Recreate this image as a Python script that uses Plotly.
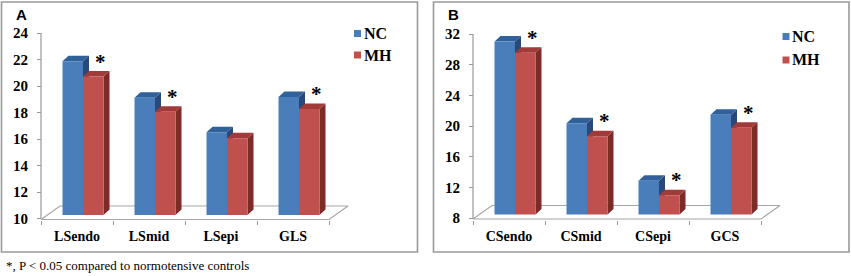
import plotly.graph_objects as go

# ---------------- data ----------------
series_names = ["NC", "MH"]
categories_A = ["LSendo", "LSmid", "LSepi", "GLS"]
nc_A = [21.6, 18.85, 16.25, 18.9]
mh_A = [20.45, 17.8, 15.8, 18.0]
sig_A = [True, True, False, True]
ticks_A = [10, 12, 14, 16, 18, 20, 22, 24]

categories_B = ["CSendo", "CSmid", "CSepi", "GCS"]
nc_B = [30.55, 19.9, 12.4, 21.0]
mh_B = [29.1, 18.2, 10.5, 19.3]
sig_B = [True, True, True, True]
ticks_B = [8, 12, 16, 20, 24, 28, 32]

panel_letters = ["A", "B"]
footnote = "*, P < 0.05 compared to normotensive controls"

# ---------------- styling / layout constants ----------------
W, H = 851, 276
SERIF = "Liberation Serif, Times New Roman, serif"
SANS = "Liberation Sans, Arial, sans-serif"
GRAY = "#999999"
FRONT = ["#4A7EBB", "#C0504D"]
TOP = ["#31619A", "#A03B39"]
SIDE = ["#28497A", "#7C2B29"]

CAT_PX = 72.0          # pixels per category
FLOOR_DX, FLOOR_DY = 19.0, 13.5
BAR_SX, BAR_SY = 6.0, 3.5   # bar plane shift from front
BAR_DX, BAR_DY = 6.0, 5.5   # bar depth
BAR_W = 20.5

panels = [
    dict(cats=categories_A, nc=nc_A, mh=mh_A, sig=sig_A, ticks=ticks_A,
         axis_px=41.0, ybot_px=218.5, ytop_px=33.0, xa="x", ya="y",
         frame=(1.5, 2.0, 417.5, 252.0), letter=(21, 14),
         leg=(357.5, 33.5, 55.0)),
    dict(cats=categories_B, nc=nc_B, mh=mh_B, sig=sig_B, ticks=ticks_B,
         axis_px=473.0, ybot_px=218.0, ytop_px=34.0, xa="x2", ya="y2",
         frame=(433.5, 2.0, 849.0, 252.0), letter=(453, 14),
         leg=(786.0, 36.5, 60.0)),
]

fig = go.Figure()
shapes = []
annotations = []

def px2x(p):
    return p / W

def py2y(p):
    return 1 - p / H

for pi, P in enumerate(panels):
    ymin, ymax = P["ticks"][0], P["ticks"][-1]
    ky = (P["ybot_px"] - P["ytop_px"]) / (ymax - ymin)   # px per unit
    pad_lo, pad_hi = 10.0, 10.0
    yr = [ymin - pad_lo / ky, ymax + pad_hi / ky]
    dom_y = [py2y(P["ybot_px"] + pad_lo), py2y(P["ytop_px"] - pad_hi)]
    xl, xr_ = -0.6, 3.95
    x0px = P["axis_px"] + (xl + 0.5) * CAT_PX
    x1px = P["axis_px"] + (xr_ + 0.5) * CAT_PX
    dom_x = [px2x(x0px), px2x(x1px)]

    ux = 1.0 / CAT_PX
    uy = 1.0 / ky
    n = len(P["cats"])
    xs = list(range(n))

    # y axis line
    fig.add_trace(go.Scatter(x=[-0.5, -0.5], y=[ymin, ymax], mode="lines",
                             line=dict(color=GRAY, width=1.2), xaxis=P["xa"], yaxis=P["ya"],
                             showlegend=False, hoverinfo="skip"))
    # floor
    f0 = ymin - 1.0 * uy
    fdx, fdy = FLOOR_DX * ux, FLOOR_DY * uy
    fig.add_trace(go.Scatter(x=[-0.5, n - 0.5, n - 0.5 + fdx, -0.5 + fdx, -0.5],
                             y=[f0, f0, f0 + fdy, f0 + fdy, f0], mode="lines",
                             line=dict(color="#a6a6a6", width=1.2), xaxis=P["xa"], yaxis=P["ya"],
                             showlegend=False, hoverinfo="skip"))

    base = ymin + BAR_SY * uy
    sx = BAR_SX * ux
    w = BAR_W * ux
    bdx, bdy = BAR_DX * ux, BAR_DY * uy
    for si, vals in enumerate([P["nc"], P["mh"]]):
        fx, fy, tx, ty, sxs, sys_ = [], [], [], [], [], []
        for i, v in enumerate(vals):
            xa0 = xs[i] + sx - w + si * w
            xa1 = xa0 + w
            t = v + BAR_SY * uy
            fx += [xa0, xa1, xa1, xa0, xa0, None]
            fy += [base, base, t, t, base, None]
            tx += [xa0, xa1, xa1 + bdx, xa0 + bdx, xa0, None]
            ty += [t, t, t + bdy, t + bdy, t, None]
            sxs += [xa1, xa1 + bdx, xa1 + bdx, xa1, xa1, None]
            sys_ += [base, base + bdy, t + bdy, t, base, None]
        for X, Y, col in [(sxs, sys_, SIDE[si]), (tx, ty, TOP[si]), (fx, fy, FRONT[si])]:
            fig.add_trace(go.Scatter(x=X, y=Y, mode="lines", fill="toself", fillcolor=col,
                                     line=dict(width=0, color=col), xaxis=P["xa"], yaxis=P["ya"],
                                     showlegend=False, hoverinfo="skip", name=series_names[si]))
        # significance stars
        if si == 1:
            for i, v in enumerate(vals):
                if P["sig"][i]:
                    annotations.append(dict(
                        x=xs[i] + sx + w - 3 * ux, y=v + BAR_SY * uy,
                        xref=P["xa"], yref=P["ya"], text="*", showarrow=False,
                        font=dict(family=SERIF, size=21, color="black", weight="bold"),
                        xanchor="center", yanchor="middle", yshift=15))

    ax_suffix = "" if pi == 0 else "2"
    fig.update_layout(**{
        "xaxis" + ax_suffix: dict(
            domain=dom_x, range=[xl, xr_], anchor="free", position=py2y(219.5),
            tickvals=xs, ticktext=P["cats"], ticks="", showgrid=False, zeroline=False,
            showline=False, ticklabelstandoff=6,
            tickfont=dict(family=SERIF, size=14, color="black", weight="bold"),
            minor=dict(tickvals=[k - 0.5 for k in range(n + 1)], ticks="outside",
                       ticklen=4, tickcolor=GRAY, tickwidth=1.2, showgrid=False),
            fixedrange=True),
        "yaxis" + ax_suffix: dict(
            domain=dom_y, range=yr, anchor="free", position=px2x(P["axis_px"]),
            tickvals=P["ticks"], ticks="outside", ticklen=4, tickcolor=GRAY, tickwidth=1.2,
            showgrid=False, zeroline=False, showline=False, ticklabelstandoff=6,
            tickfont=dict(family=SERIF, size=15, color="black", weight="bold"), fixedrange=True),
    })

    # frame
    fx0, fy0, fx1, fy1 = P["frame"]
    shapes.append(dict(type="rect", xref="paper", yref="paper",
                       x0=px2x(fx0), x1=px2x(fx1), y0=py2y(fy1), y1=py2y(fy0),
                       line=dict(color=GRAY, width=1.6)))
    # panel letter
    annotations.append(dict(x=px2x(P["letter"][0]), y=py2y(P["letter"][1]), xref="paper", yref="paper",
                            text=panel_letters[pi], showarrow=False,
                            font=dict(family=SANS, size=15, color="black", weight="bold"),
                            xanchor="center", yanchor="middle"))
    # legend
    lx, ly1, ly2 = P["leg"]
    for si, ly in enumerate([ly1, ly2]):
        shapes.append(dict(type="rect", xref="paper", yref="paper",
                           x0=px2x(lx - 3.5), x1=px2x(lx + 3.5), y0=py2y(ly + 3.5), y1=py2y(ly - 3.5),
                           fillcolor=FRONT[si], line=dict(width=0)))
        annotations.append(dict(x=px2x(lx + 4), y=py2y(ly), xref="paper", yref="paper",
                                text=series_names[si], showarrow=False,
                                font=dict(family=SERIF, size=16, color="black", weight="bold"),
                                xanchor="left", yanchor="middle"))

annotations.append(dict(x=px2x(4), y=py2y(265), xref="paper", yref="paper", text=footnote,
                        showarrow=False, font=dict(family=SERIF, size=13, color="black"),
                        xanchor="left", yanchor="middle"))

fig.update_layout(width=W, height=H, margin=dict(l=0, r=0, t=0, b=0),
                  paper_bgcolor="white", plot_bgcolor="rgba(0,0,0,0)",
                  showlegend=False, shapes=shapes, annotations=annotations)

fig.write_html("out.html", config={"displayModeBar": False},
               post_script="document.body.style.margin='0';")
